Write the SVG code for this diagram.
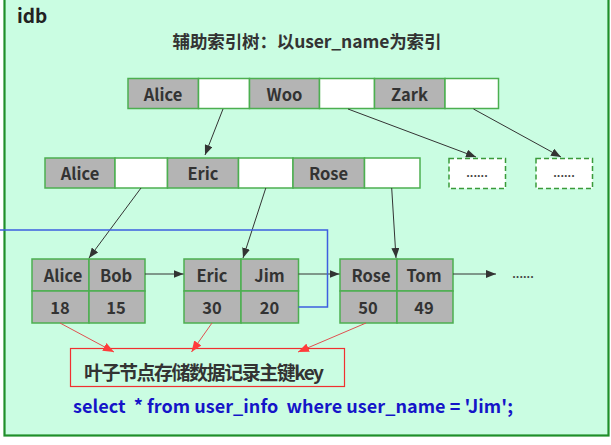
<svg xmlns="http://www.w3.org/2000/svg" width="611" height="445" viewBox="0 0 611 445">
<style>
.t{font-family:"Noto Sans CJK SC","Noto Sans",sans-serif;font-weight:bold;}
.k{fill:#B4B4B4;stroke:#4CAF50;stroke-width:1.5;}
.w{fill:#FFFFFF;stroke:#4CAF50;stroke-width:1.5;}
.c{font-size:16.5px;fill:#333;text-anchor:middle;dominant-baseline:central;}
.d{fill:#FFFFFF;stroke:#3A9A3A;stroke-width:1.5;stroke-dasharray:5 3;}
.a{stroke:#333;stroke-width:1;fill:none;marker-end:url(#ah);}
.r{stroke:#E05050;stroke-width:1;fill:none;marker-end:url(#rh);}
</style>
<defs>
<marker id="ah" viewBox="0 0 10 8" refX="10" refY="4" markerWidth="10" markerHeight="8" markerUnits="userSpaceOnUse" orient="auto"><path d="M0,0 L10,4 L0,8 Z" fill="#333"/></marker>
<marker id="rh" viewBox="0 0 10 8" refX="10" refY="4" markerWidth="11" markerHeight="9" markerUnits="userSpaceOnUse" orient="auto"><path d="M0,0 L10,4 L0,8 Z" fill="#FF3B3B"/></marker>
</defs>
<rect x="4.5" y="-3" width="604" height="438.5" fill="#CAFDE2" stroke="#1F8F2A" stroke-width="2.2"/>
<text class="t" x="17" y="23" font-size="19" fill="#222">idb</text>
<text class="t" x="307" y="48" font-size="17.5" fill="#333" text-anchor="middle" textLength="269">辅助索引树：以user_name为索引</text>

<g id="root">
<rect class="k" x="128" y="78.5" width="70.5" height="30"/>
<rect class="w" x="198.5" y="78.5" width="51" height="30"/>
<rect class="k" x="249.5" y="78.5" width="70" height="30"/>
<rect class="w" x="319.5" y="78.5" width="55" height="30"/>
<rect class="k" x="374.5" y="78.5" width="70.5" height="30"/>
<rect class="w" x="445" y="78.5" width="53.5" height="30"/>
<text class="t c" x="163" y="93.5">Alice</text>
<text class="t c" x="284.5" y="93.5">Woo</text>
<text class="t c" x="409.5" y="93.5">Zark</text>
</g>

<g id="mid">
<rect class="k" x="45" y="158" width="70" height="30"/>
<rect class="w" x="115" y="158" width="52.5" height="30"/>
<rect class="k" x="167.5" y="158" width="71" height="30"/>
<rect class="w" x="238.5" y="158" width="54.5" height="30"/>
<rect class="k" x="293" y="158" width="71.5" height="30"/>
<rect class="w" x="364.5" y="158" width="55.5" height="30"/>
<text class="t c" x="80" y="173">Alice</text>
<text class="t c" x="203" y="173">Eric</text>
<text class="t c" x="328.5" y="173">Rose</text>
</g>

<g id="more1">
<rect class="d" x="449" y="158.5" width="56.5" height="30"/>
<text class="t" x="477" y="177" font-size="11" fill="#444" text-anchor="middle">......</text>
</g>
<g id="more2">
<rect class="d" x="536" y="158.5" width="56.5" height="30"/>
<text class="t" x="564" y="177" font-size="11" fill="#444" text-anchor="middle">......</text>
</g>

<g id="leaf1">
<rect class="k" x="32" y="259" width="57" height="32"/>
<rect class="k" x="89" y="259" width="56" height="32"/>
<rect class="k" x="32" y="291" width="57" height="32"/>
<rect class="k" x="89" y="291" width="56" height="32"/>
<text class="t c" x="63" y="275">Alice</text>
<text class="t c" x="116" y="275">Bob</text>
<text class="t c" x="60" y="307">18</text>
<text class="t c" x="116" y="307">15</text>
</g>

<g id="leaf2">
<rect class="k" x="184" y="259" width="57" height="32"/>
<rect class="k" x="241" y="259" width="57.5" height="32"/>
<rect class="k" x="184" y="291" width="57" height="32"/>
<rect class="k" x="241" y="291" width="57.5" height="32"/>
<text class="t c" x="212" y="275">Eric</text>
<text class="t c" x="269.5" y="275">Jim</text>
<text class="t c" x="212" y="307">30</text>
<text class="t c" x="269.5" y="307">20</text>
</g>

<g id="leaf3">
<rect class="k" x="340" y="259" width="57" height="32"/>
<rect class="k" x="397" y="259" width="56" height="32"/>
<rect class="k" x="340" y="291" width="57" height="32"/>
<rect class="k" x="397" y="291" width="56" height="32"/>
<text class="t c" x="371" y="275">Rose</text>
<text class="t c" x="424" y="275">Tom</text>
<text class="t c" x="368" y="307">50</text>
<text class="t c" x="424" y="307">49</text>
</g>

<text class="t" x="523" y="278" font-size="11" fill="#444" text-anchor="middle">......</text>

<g id="note">
<rect x="70.5" y="348.5" width="274" height="38" fill="none" stroke="#F03030" stroke-width="1.2"/>
<text class="t" x="84" y="380" font-size="19" fill="#333" textLength="240">叶子节点存储数据记录主键key</text>
</g>

<text class="t" x="73" y="413" font-size="18" fill="#1515C8" textLength="440" style="white-space:pre">select  * from user_info  where user_name = 'Jim';</text>

<g id="connectors">
<line class="a" x1="223" y1="109" x2="205" y2="155"/>
<line class="a" x1="348" y1="109" x2="476" y2="157"/>
<line class="a" x1="473.5" y1="109" x2="561" y2="157"/>
<line class="a" x1="141" y1="188" x2="89" y2="258"/>
<line class="a" x1="265.8" y1="188" x2="243" y2="258"/>
<line class="a" x1="391.7" y1="188" x2="396" y2="258"/>
<line class="a" x1="145" y1="274" x2="183.5" y2="274"/>
<line class="a" x1="298.5" y1="274" x2="339.5" y2="274"/>
<line class="a" x1="453" y1="274" x2="496" y2="274"/>
<polyline points="0,230 327.5,230 327.5,307 298.5,307" fill="none" stroke="#3D5FE0" stroke-width="1.5"/>
<line class="r" x1="60" y1="323" x2="114" y2="352"/>
<line class="r" x1="212" y1="323" x2="191.5" y2="352"/>
<line class="r" x1="366" y1="323" x2="298" y2="352"/>
</g>
</svg>
